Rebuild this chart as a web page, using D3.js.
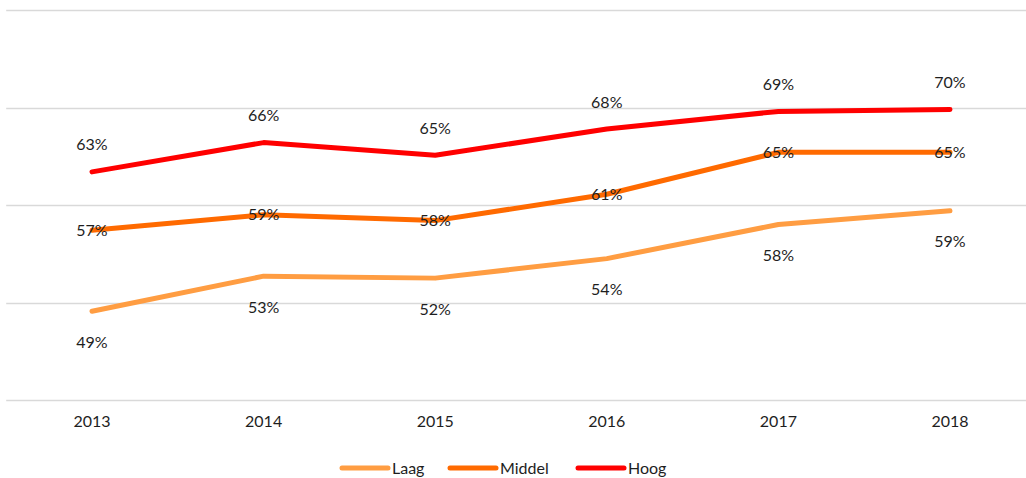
<!DOCTYPE html>
<html>
<head>
<meta charset="utf-8">
<script src="https://cdn.jsdelivr.net/npm/d3@7"></script>
<style>
  body { margin: 0; background: #fff; }
  svg text { font-family: Lato, "Open Sans", sans-serif; fill: #1e1e1e; }
</style>
</head>
<body>
<div class="container"></div>
<script>
let years = ["2013", "2014", "2015", "2016", "2017", "2018"];
let laag = [49.1, 52.7, 52.5, 54.5, 58.0, 59.4];
let middel = [57.4, 59.0, 58.4, 61.1, 65.4, 65.4];
let hoog = [63.4, 66.4, 65.1, 67.8, 69.6, 69.8];
let laagLabels = ["49%", "53%", "52%", "54%", "58%", "59%"];
let middelLabels = ["57%", "59%", "58%", "61%", "65%", "65%"];
let hoogLabels = ["63%", "66%", "65%", "68%", "69%", "70%"];
let gridValues = [40, 50, 60, 70, 80];

let series = [
    { name: "Laag", values: laag, labels: laagLabels, color: "#FF9D42", pos: "below" },
    { name: "Middel", values: middel, labels: middelLabels, color: "#FF6A00", pos: "center" },
    { name: "Hoog", values: hoog, labels: hoogLabels, color: "#FF0000", pos: "above" }
];

let svg = d3.select(".container").append("svg")
    .attr("width", 1026)
    .attr("height", 478);

let x = d3.scaleBand().domain(years).range([6.2, 1035.8]);
let y = d3.scaleLinear().domain([40, 80]).range([400, 10]);

// gridlines
svg.append("g").selectAll("line")
    .data(gridValues)
    .enter()
    .append("line")
    .attr("x1", x.range()[0])
    .attr("x2", x.range()[1])
    .attr("y1", d => Math.round(y(d)) + 0.5)
    .attr("y2", d => Math.round(y(d)) + 0.5)
    .attr("stroke", "#d9d9d9")
    .attr("stroke-width", 1.5);

// x axis labels
let xAxis = d3.axisBottom(x).tickSize(0).tickPadding(0);
let axisG = svg.append("g")
    .attr("transform", "translate(0,416)")
    .call(xAxis);
axisG.select(".domain").remove();
axisG.selectAll("text")
    .attr("font-size", 16)
    .attr("font-family", "Lato, 'Open Sans', sans-serif")
    .attr("fill", "#1e1e1e");

let line = d3.line()
    .x((d, i) => x(years[i]) + x.bandwidth() / 2)
    .y(d => y(d));

series.forEach(function (s) {
    svg.append("path")
        .datum(s.values)
        .attr("d", line)
        .attr("fill", "none")
        .attr("stroke", s.color)
        .attr("stroke-width", 5)
        .attr("stroke-linecap", "round")
        .attr("stroke-linejoin", "round");
});

series.forEach(function (s) {
    svg.append("g").selectAll("text")
        .data(s.values)
        .enter()
        .append("text")
        .attr("x", (d, i) => x(years[i]) + x.bandwidth() / 2)
        .attr("y", function (d) {
            if (s.pos === "above") return y(d) - 27;
            if (s.pos === "below") return y(d) + 31;
            return y(d);
        })
        .attr("dy", "0.35em")
        .attr("text-anchor", "middle")
        .attr("font-size", 16)
        .text((d, i) => s.labels[i]);
});

// legend
let legendX = [340, 448, 576];
let legend = svg.append("g").attr("transform", "translate(0,468)");
series.forEach(function (s, i) {
    legend.append("line")
        .attr("x1", legendX[i] + 2)
        .attr("x2", legendX[i] + 48)
        .attr("y1", 0)
        .attr("y2", 0)
        .attr("stroke", s.color)
        .attr("stroke-width", 5)
        .attr("stroke-linecap", "round");
    legend.append("text")
        .attr("x", legendX[i] + 52)
        .attr("y", 0)
        .attr("dy", "0.35em")
        .attr("font-size", 16)
        .text(s.name);
});
</script>
</body>
</html>
